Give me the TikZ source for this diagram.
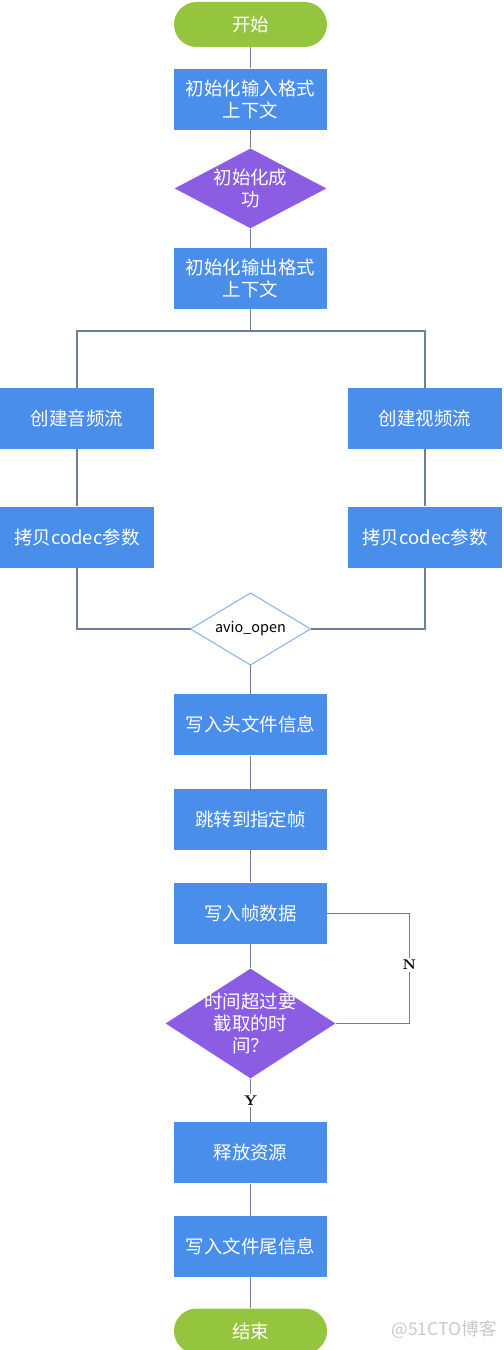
\documentclass[tikz,border=0pt]{standalone}
\usepackage{fontspec}
\newfontfamily\cjk{Noto Sans CJK SC}
\usetikzlibrary{positioning,shapes.geometric}
\definecolor{termgreen}{HTML}{95C53F}
\definecolor{procblue}{HTML}{4A8EEC}
\definecolor{decpurple}{HTML}{8B5DE3}
\definecolor{linegray}{HTML}{6E7F99}
\definecolor{ioblue}{HTML}{8DB5EE}
\definecolor{markgray}{HTML}{C9C9C9}
\tikzset{term node/.style={rectangle,rounded corners=0.45cm,fill=termgreen,minimum width=3.06cm,minimum height=0.9cm,inner sep=0pt,text=white,font=\cjk\fontsize{10.5}{12.5}\selectfont},
proc node/.style={rectangle,fill=procblue,minimum width=3.06cm,minimum height=1.22cm,inner sep=0pt,text=white,align=center,font=\cjk\fontsize{10.5}{12.5}\selectfont},
dec node/.style={diamond,fill=decpurple,inner sep=0pt},
dec text/.style={text=white,align=center,inner sep=0pt,font=\cjk\fontsize{10.5}{12.3}\selectfont},
io node/.style={diamond,shape aspect=1.67,draw=ioblue,fill=white,line width=0.6pt,minimum width=2.4cm,minimum height=1.44cm,inner sep=0pt,outer sep=0pt,font=\cjk\fontsize{8.2}{10}\selectfont},
flow/.style={draw=linegray,line width=0.7pt},
yn/.style={fill=white,inner sep=1pt,font=\fontsize{8}{9}\selectfont\bfseries},
}

\begin{document}
\begin{tikzpicture}
\useasboundingbox (0,0) rectangle (10.06,-27);

%% main column, top part
\node[term node] (start) at (5.01,-0.49) {开始};
\node[proc node] (inctx) [below = 0.42cm of start] {初始化输入格式\\上下文};
\node[dec node,minimum width=3.04cm,minimum height=1.6cm] (ok) [below = 0.36cm of inctx] {};
\node[dec text] (oktxt) at (ok) {初始化成\\功};
\node[proc node] (outctx) [below = 0.38cm of ok] {初始化输出格式\\上下文};
\coordinate (split) at (5.01,-6.62);

%% two branches
\node[proc node,minimum width=3.08cm] (astream) at (1.54,-8.37) {创建音频流};
\node[proc node,minimum width=3.08cm] (acodec) [below = 1.14cm of astream] {拷贝codec参数};
\node[proc node,minimum width=3.08cm] (vstream) at (8.5,-8.37) {创建视频流};
\node[proc node,minimum width=3.08cm] (vcodec) [below = 1.14cm of vstream] {拷贝codec参数};
\node[io node] (avio) at (5.01,-12.58) {avio\_open};

%% main column, bottom part
\node[proc node] (header) [below = 0.58cm of avio] {写入头文件信息};
\node[proc node] (seek) [below = 0.66cm of header] {跳转到指定帧};
\node[proc node] (frame) [below = 0.64cm of seek] {写入帧数据};
\node[dec node,minimum width=3.4cm,minimum height=2.2cm] (time) [below = 0.48cm of frame] {};
\node[dec text] (timetxt) at (time) {时间超过要\\截取的时\\间？};
\node[proc node] (release) [below = 0.86cm of time] {释放资源};
\node[proc node] (trailer) [below = 0.64cm of release] {写入文件尾信息};
\node[term node] (end) [below = 0.62cm of trailer] {结束};

\node[text=markgray,font=\cjk\fontsize{10}{12}\selectfont] (mark) at (8.88,-26.6) {@51CTO博客};

\path[flow]
(start) edge (inctx)
(inctx) edge (ok)
(ok) edge (outctx)
(astream) edge (acodec)
(vstream) edge (vcodec)
(avio) edge (header)
(header) edge (seek)
(seek) edge (frame)
(frame) edge (time)
(time) edge node[yn] {Y} (release)
(release) edge (trailer)
(trailer) edge (end)
;
\draw[flow] (outctx.south) -- (split);
\draw[flow] (astream.north) |- (split) -| (vstream.north);
\draw[flow] (acodec.south) |- (avio.west);
\draw[flow] (vcodec.south) |- (avio.east);
\draw[flow] (frame.east) -- ++(1.64,0) coordinate (loop) |- node[yn,pos=0.235] {N} (time.east);
\end{tikzpicture}
\end{document}
